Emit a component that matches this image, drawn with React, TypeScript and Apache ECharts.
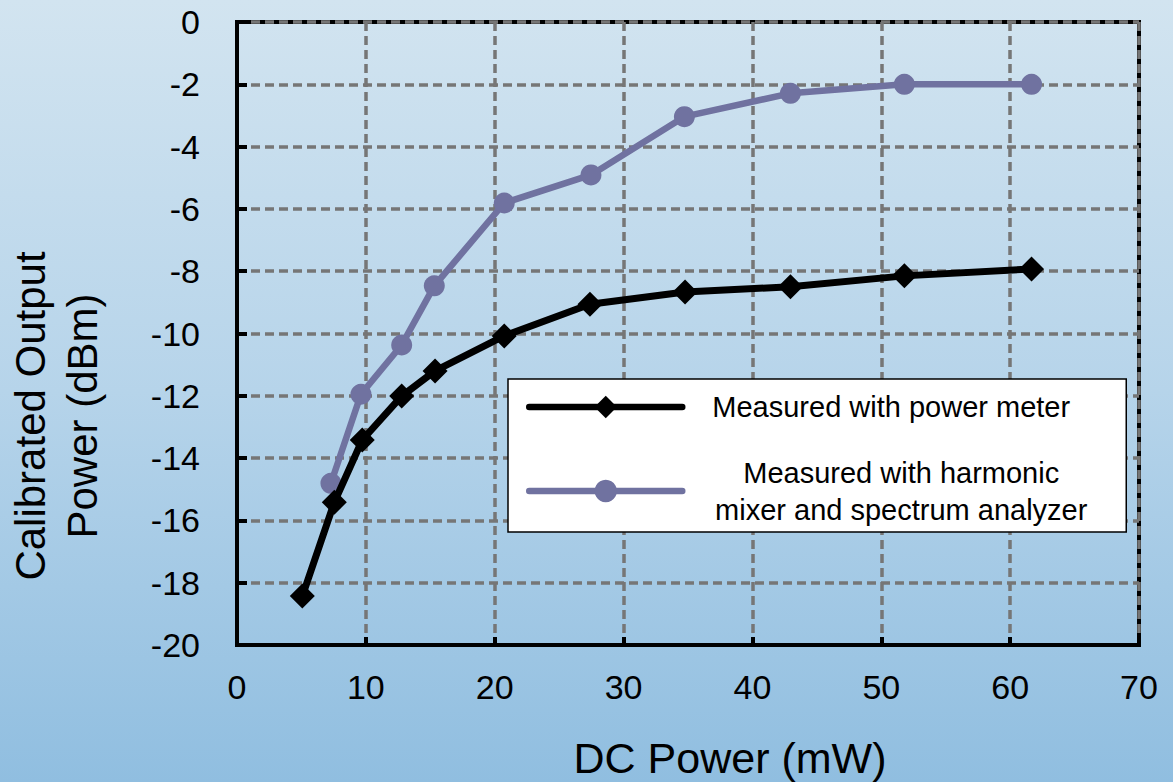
import React, { useEffect, useRef } from "react";
import * as echarts from "echarts";

// DC power (mW) and calibrated output power (dBm) for the two measurement methods
const dcPowerMeter = [5.07, 7.55, 9.72, 12.78, 15.37, 20.74, 27.39, 34.77, 42.95, 51.79, 61.66];
const outPowerMeter = [-18.43, -15.42, -13.42, -12.01, -11.2, -10.08, -9.06, -8.67, -8.5, -8.15, -7.93];

const dcMixer = [7.29, 9.62, 12.78, 15.31, 20.74, 27.47, 34.72, 42.95, 51.79, 61.66];
const outMixer = [-14.81, -11.95, -10.37, -8.47, -5.81, -4.91, -3.04, -2.29, -2.0, -2.0];

const seriesNames = [
  "Measured with power meter",
  "Measured with harmonic mixer and spectrum analyzer",
];
const legendLabels = [
  ["Measured with power meter"],
  ["Measured with harmonic", "mixer and spectrum analyzer"],
];
const legendStyles = ["a", "b"];

const xTitle = "DC Power (mW)";
const yTitle = "Calibrated Output\nPower (dBm)";

const FONT = "'Liberation Sans', Arial, sans-serif";

const pair = (xs: number[], ys: number[]) => xs.map((x, i) => [x, ys[i]]);

export default function App() {
  const ref = useRef<HTMLDivElement>(null);

  useEffect(() => {
    if (!ref.current) return;
    const chart = echarts.init(ref.current, null, { renderer: "svg" });

    const gridLine = {
      show: true,
      lineStyle: { color: "#767676", width: 3.5, type: [9, 5] as number[] },
    };
    const legendText = {
      align: "center",
      fontSize: 29,
      lineHeight: 37,
      color: "#000",
      fontFamily: FONT,
    };

    chart.setOption({
      animation: false,
      backgroundColor: new echarts.graphic.LinearGradient(0, 0, 0, 1, [
        { offset: 0, color: "#d2e4f0" },
        { offset: 0.5, color: "#b6d4ea" },
        { offset: 1, color: "#90bee0" },
      ]),
      grid: {
        left: 237,
        top: 22,
        right: 34,
        bottom: 137,
        show: true,
        borderColor: "#000",
        borderWidth: 4,
        backgroundColor: "transparent",
      },
      xAxis: {
        type: "value",
        min: 0,
        max: 70,
        interval: 10,
        axisLine: { show: true, onZero: false, lineStyle: { color: "#000", width: 4 } },
        axisTick: { show: true, inside: true, length: 8, lineStyle: { color: "#000", width: 4 } },
        axisLabel: { color: "#000", fontSize: 34, fontFamily: FONT, margin: 25 },
        splitLine: gridLine,
      },
      yAxis: {
        type: "value",
        min: -20,
        max: 0,
        interval: 2,
        axisLine: { show: true, onZero: false, lineStyle: { color: "#000", width: 4 } },
        axisTick: { show: true, inside: true, length: 10, lineStyle: { color: "#000", width: 4 } },
        axisLabel: { color: "#000", fontSize: 34, fontFamily: FONT, margin: 37 },
        splitLine: gridLine,
      },
      legend: {
        data: seriesNames,
        orient: "vertical",
        left: 508,
        top: 379,
        itemWidth: 153,
        itemHeight: 28,
        itemGap: 36.5,
        padding: [13.5, 11, 8, 18],
        backgroundColor: "#fff",
        borderColor: "#000",
        borderWidth: 1.5,
        borderRadius: 0,
        selectedMode: false,
        lineStyle: { width: 6.5, cap: "round" },
        formatter: (name: string) => {
          const idx = seriesNames.indexOf(name);
          const key = legendStyles[idx];
          return legendLabels[idx].map((l) => `{${key}|${l}}`).join("\n");
        },
        textStyle: {
          rich: {
            a: { ...legendText, width: 408 },
            b: { ...legendText, width: 428 },
          },
        },
      },
      graphic: [
        {
          type: "text",
          x: 730,
          y: 758,
          style: {
            text: xTitle,
            fontSize: 43,
            fontFamily: FONT,
            fill: "#000",
            textAlign: "center",
            textVerticalAlign: "middle",
          },
        },
        {
          type: "text",
          x: 56,
          y: 416,
          rotation: Math.PI / 2,
          style: {
            text: yTitle,
            fontSize: 42,
            lineHeight: 52,
            fontFamily: FONT,
            fill: "#000",
            textAlign: "center",
            textVerticalAlign: "middle",
          },
        },
      ],
      series: [
        {
          name: seriesNames[1],
          type: "line",
          data: pair(dcMixer, outMixer),
          symbol: "circle",
          symbolSize: 21,
          color: "#7072a0",
          itemStyle: { color: "#7072a0" },
          lineStyle: { color: "#7072a0", width: 6.5 },
          z: 2,
        },
        {
          name: seriesNames[0],
          type: "line",
          data: pair(dcPowerMeter, outPowerMeter),
          symbol: "diamond",
          symbolSize: 25,
          color: "#000",
          itemStyle: { color: "#000" },
          lineStyle: { color: "#000", width: 7 },
          z: 3,
        },
      ],
    });

    return () => chart.dispose();
  }, []);

  return (
    <div
      ref={ref}
      style={{ position: "absolute", left: 0, top: 0, width: 1173, height: 782 }}
    />
  );
}
